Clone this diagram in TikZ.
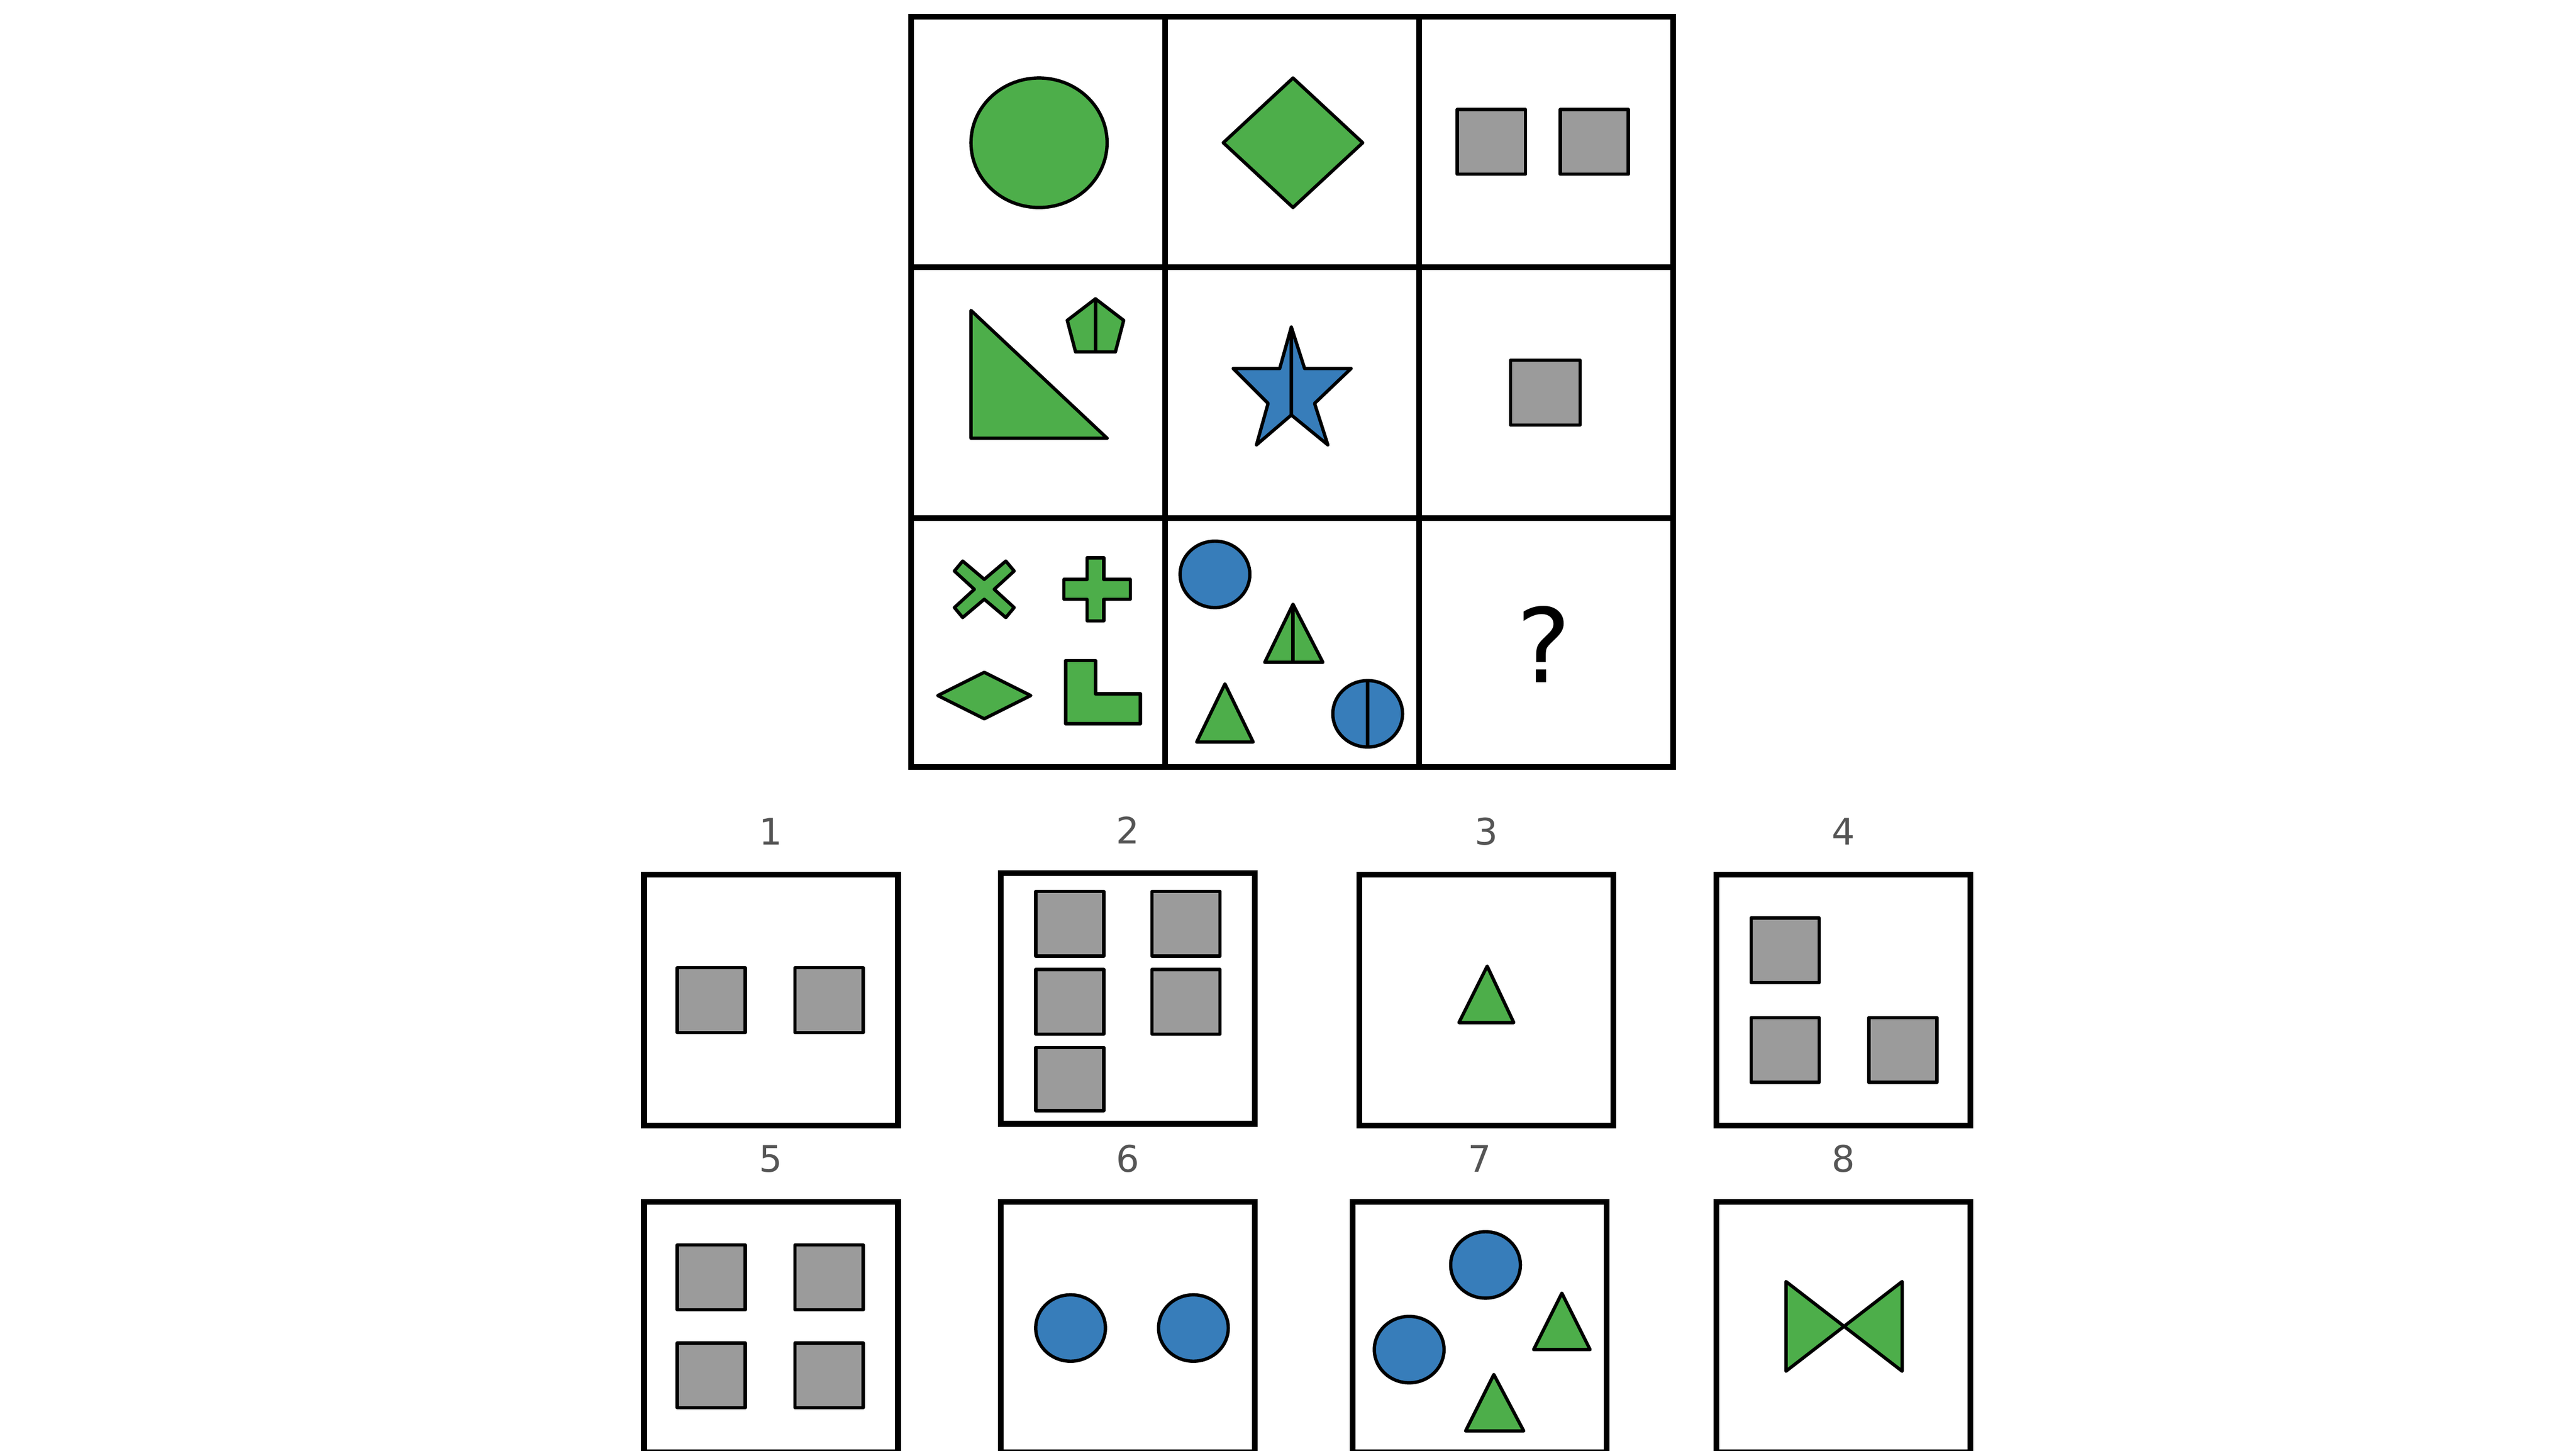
\documentclass[tikz,border=0pt]{standalone}
\usepackage{fontspec}
\setmainfont{DejaVu Sans}
\definecolor{gr}{HTML}{4DAE4A}
\definecolor{bl}{HTML}{377DBA}
\definecolor{gy}{HTML}{9B9B9B}
\definecolor{lab}{HTML}{555555}
\begin{document}
\begin{tikzpicture}[x=1pt,y=-1pt,
  box/.style={line width=3.5pt,draw=black,fill=white},
  shp/.style={line width=2pt,draw=black,line join=round},
  g/.style={shp,fill=gr}, b/.style={shp,fill=bl}, s/.style={shp,fill=gy},
  num/.style={text=lab,font=\fontsize{22}{22}\selectfont}]
\useasboundingbox (0,0) rectangle (1552,874);
% grid
\draw[box] (549,10) rectangle (1008,462);
\foreach \x in {702,855} \draw[line width=3.5pt] (\x,10) -- (\x,462);
\foreach \y in {161,312} \draw[line width=3.5pt] (549,\y) -- (1008,\y);
% row 1
\draw[g] (626,86) ellipse [x radius=41, y radius=39];
\draw[g] (737,86) -- (779,47) -- (821,86) -- (779,125) -- cycle;
\draw[s] (878,66) rectangle (919,105);
\draw[s] (940,66) rectangle (981,105);
% row 2
\draw[g] (585,187) -- (585,264) -- (667,264) -- cycle;
\draw[g] (660,180) -- (677,193) -- (672,212) -- (648,212) -- (643,193) -- cycle;
\draw[shp] (660,180) -- (660,212);
\draw[b] (778,197) -- (786,222) -- (814,222) -- (792,243) -- (800,268) -- (778,250) -- (757,268) -- (764,243) -- (743,222) -- (771,222) -- cycle;
\draw[shp] (778,197) -- (778,250);
\draw[s] (910,217) rectangle (952,256);
% row 3
\draw[g] (575,344) -- (580,338) -- (593,349) -- (606,338) -- (611,344) -- (599,355) -- (611,366) -- (606,372) -- (593,361) -- (580,372) -- (575,366) -- (587,355) -- cycle;
\draw[g] (655,336) -- (665,336) -- (665,349) -- (681,349) -- (681,361) -- (665,361) -- (665,374) -- (655,374) -- (655,361) -- (641,361) -- (641,349) -- (655,349) -- cycle;
\draw[g] (565,419) -- (593,405) -- (621,419) -- (593,433) -- cycle;
\draw[g] (642,398) -- (660,398) -- (660,418) -- (687,418) -- (687,436) -- (642,436) -- cycle;
\draw[b] (732,346) ellipse [x radius=21, y radius=20];
\draw[g] (762,399) -- (797,399) -- (779,364) -- cycle;
\draw[shp] (779,364) -- (779,399);
\draw[g] (721,447) -- (755,447) -- (738,412) -- cycle;
\draw[b] (824,430) ellipse [x radius=21, y radius=20];
\draw[shp] (824,410) -- (824,450);
\node (q) at (930,388) {\fontsize{62}{62}\selectfont ?};
% answers
\foreach \x/\y/\n in {388/527/1,603/526/2,819/527/3,1034/527/4,388/724/5,603/724/6,815/724/7,1034/724/8}{
  \draw[box] (\x,\y) rectangle ++(153,151);
  \node[num] (n\n) at (\x+76.5,\y-26) {\n};
}
% 1
\draw[s] (408,583) rectangle (449,622);
\draw[s] (479,583) rectangle (520,622);
% 2
\foreach \x in {624,694} \foreach \y in {537,584} \draw[s] (\x,\y) rectangle ++(41,39);
\draw[s] (624,631) rectangle ++(41,38);
% 3
\draw[g] (879,616) -- (912,616) -- (896,582) -- cycle;
% 4
\draw[s] (1055,553) rectangle ++(41,39);
\draw[s] (1055,613) rectangle ++(41,39);
\draw[s] (1126,613) rectangle ++(41,39);
% 5
\foreach \x in {408,479} \foreach \y in {750,809} \draw[s] (\x,\y) rectangle ++(41,39);
% 6
\draw[b] (645,800) ellipse [x radius=21, y radius=20];
\draw[b] (719,800) ellipse [x radius=21, y radius=20];
% 7
\draw[b] (895,762) ellipse [x radius=21, y radius=20];
\draw[b] (849,813) ellipse [x radius=21, y radius=20];
\draw[g] (924,813) -- (958,813) -- (941,779) -- cycle;
\draw[g] (883,862) -- (918,862) -- (900,828) -- cycle;
% 8
\draw[g] (1076,772) -- (1146,826) -- (1146,772) -- (1076,826) -- cycle;
\end{tikzpicture}
\end{document}
